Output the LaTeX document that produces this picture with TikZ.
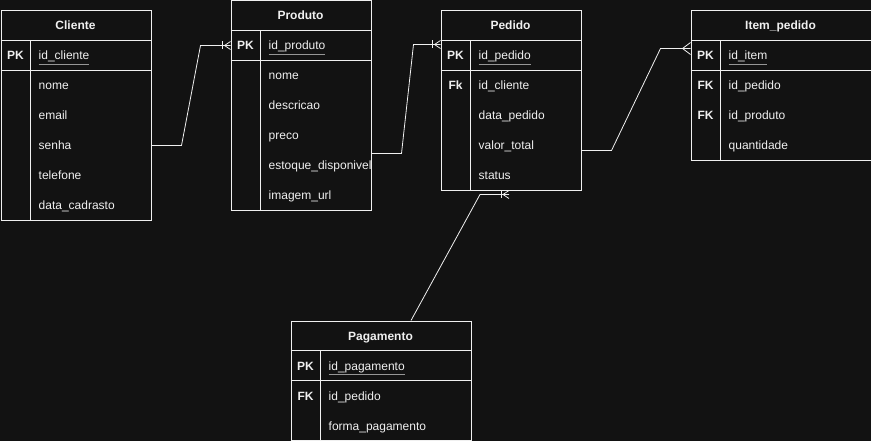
\documentclass[tikz,border=0pt]{standalone}
\usepackage{fontspec}
\setmainfont{Liberation Sans}
\usetikzlibrary{calc}
\definecolor{bg}{RGB}{18,18,18}
\definecolor{fg}{RGB}{240,240,240}
\definecolor{ulc}{RGB}{150,150,150}
\newcommand\pkul[1]{\textcolor{ulc}{\underline{\textcolor{fg}{#1}}}}
\begin{document}
\begin{tikzpicture}[x=1pt,y=-1pt,
  tbl/.style={draw=fg, line width=1pt, inner sep=0pt, anchor=north west},
  ln/.style={draw=fg, line width=1pt},
  hdr/.style={text=fg, font=\fontsize{12}{14}\selectfont\bfseries, inner sep=0pt, text height=10.5pt, text depth=1.5pt},
  keyt/.style={text=fg, font=\fontsize{12}{14}\selectfont\bfseries, inner sep=0pt, text height=10.5pt, text depth=1.5pt},
  fld/.style={text=fg, font=\fontsize{12}{14}\selectfont, inner sep=0pt, anchor=west, text height=10.5pt, text depth=1.5pt},
  conn/.style={draw=fg, line width=0.8pt},
  onemany/.pic={\draw[conn] (-8,-4) -- (-8,4); \draw[conn] (-6,0) -- (0,-4) (-6,0) -- (0,4);},
  manyonly/.pic={\draw[conn] (-8,0) -- (0,-6) (-8,0) -- (0,6);},
]
\fill[bg] (0,0) rectangle (871,441);
\useasboundingbox (0,0) rectangle (871,441);

% ---------- Cliente ----------
\node[tbl, minimum width=150pt, minimum height=210pt] (cli) at (0.5,10.5) {};
\draw[ln] (0.5,40.5) -- (150.5,40.5);
\draw[ln] (0.5,70.5) -- (150.5,70.5);
\draw[ln] (30.5,40.5) -- (30.5,220.5);
\node[hdr] (cli-h) at (75.5,25.5) {Cliente};
\node[keyt] (cli-pk) at (15.5,55.5) {PK};
\node[fld] (cli-id) at (38.5,55.5) {\pkul{id\_cliente}};
\node[fld] (cli-nome) at (38.5,85.5) {nome};
\node[fld] (cli-email) at (38.5,115.5) {email};
\node[fld] (cli-senha) at (38.5,145.5) {senha};
\node[fld] (cli-tel) at (38.5,175.5) {telefone};
\node[fld] (cli-data) at (38.5,205.5) {data\_cadrasto};

% ---------- Produto ----------
\node[tbl, minimum width=140pt, minimum height=210pt] (pro) at (230.5,0.5) {};
\draw[ln] (230.5,30.5) -- (370.5,30.5);
\draw[ln] (230.5,60.5) -- (370.5,60.5);
\draw[ln] (260.5,30.5) -- (260.5,210.5);
\node[hdr] (pro-h) at (300.5,15.5) {Produto};
\node[keyt] (pro-pk) at (245.5,45.5) {PK};
\node[fld] (pro-id) at (268.5,45.5) {\pkul{id\_produto}};
\node[fld] (pro-nome) at (268.5,75.5) {nome};
\node[fld] (pro-desc) at (268.5,105.5) {descricao};
\node[fld] (pro-preco) at (268.5,135.5) {preco};
\begin{scope}
\clip (261,151) rectangle (370,180);
\node[fld] (pro-est) at (268.5,165.5) {estoque\_disponivel};
\end{scope}
\node[fld] (pro-img) at (268.5,195.5) {imagem\_url};

% ---------- Pedido ----------
\node[tbl, minimum width=140pt, minimum height=180pt] (ped) at (440.5,10.5) {};
\draw[ln] (440.5,40.5) -- (580.5,40.5);
\draw[ln] (440.5,70.5) -- (580.5,70.5);
\draw[ln] (470.5,40.5) -- (470.5,190.5);
\node[hdr] (ped-h) at (510.5,25.5) {Pedido};
\node[keyt] (ped-pk) at (455.5,55.5) {PK};
\node[fld] (ped-id) at (478.5,55.5) {\pkul{id\_pedido}};
\node[keyt] (ped-fk) at (455.5,85.5) {Fk};
\node[fld] (ped-cli) at (478.5,85.5) {id\_cliente};
\node[fld] (ped-data) at (478.5,115.5) {data\_pedido};
\node[fld] (ped-val) at (478.5,145.5) {valor\_total};
\node[fld] (ped-st) at (478.5,175.5) {status};

% ---------- Item_pedido ----------
\node[tbl, minimum width=180pt, minimum height=150pt] (itm) at (690.5,10.5) {};
\draw[ln] (690.5,40.5) -- (870.5,40.5);
\draw[ln] (690.5,70.5) -- (870.5,70.5);
\draw[ln] (720.5,40.5) -- (720.5,160.5);
\node[hdr] (itm-h) at (780.5,25.5) {Item\_pedido};
\node[keyt] (itm-pk) at (705.5,55.5) {PK};
\node[fld] (itm-id) at (728.5,55.5) {\pkul{id\_item}};
\node[keyt] (itm-fk1) at (705.5,85.5) {FK};
\node[fld] (itm-ped) at (728.5,85.5) {id\_pedido};
\node[keyt] (itm-fk2) at (705.5,115.5) {FK};
\node[fld] (itm-pro) at (728.5,115.5) {id\_produto};
\node[fld] (itm-qt) at (728.5,145.5) {quantidade};

% ---------- Pagamento ----------
\node[tbl, minimum width=180pt, minimum height=119.3pt] (pag) at (290.5,320.5) {};
\draw[ln] (290.5,350.5) -- (470.5,350.5);
\draw[ln] (290.5,380.5) -- (470.5,380.5);
\draw[ln] (320.5,350.5) -- (320.5,439.8);
\node[hdr] (pag-h) at (380.5,335.5) {Pagamento};
\node[keyt] (pag-pk) at (305.5,365.5) {PK};
\node[fld] (pag-id) at (328.5,365.5) {\pkul{id\_pagamento}};
\node[keyt] (pag-fk) at (305.5,395.5) {FK};
\node[fld] (pag-ped) at (328.5,395.5) {id\_pedido};
\node[fld] (pag-forma) at (328.5,425.5) {forma\_pagamento};

% ---------- Connectors ----------
\coordinate (c1a) at (cli.east |- cli-senha);
\coordinate (c1b) at (pro.west |- pro-id);
\draw[conn] (c1a) -- ++(30,0) -- (200.5,45.5) -- (c1b);
\pic at (c1b) {onemany};

\coordinate (c2a) at ($(pro.east |- pro-est)+(0,-12)$);
\coordinate (c2b) at ($(ped.west |- ped-id)+(0,-11)$);
\draw[conn] (c2a) -- ++(30,0) -- (413.5,44.5) -- (c2b);
\pic at (c2b) {onemany};

\coordinate (c3a) at ($(ped.east |- ped-val)+(0,5)$);
\coordinate (c3b) at ($(itm.west |- itm-id)+(0,-7)$);
\draw[conn] (c3a) -- ++(30,0) -- (660.5,48.5) -- (c3b);
\pic at (c3b) {manyonly};

\coordinate (c4a) at ($(pag.north)+(30,0)$);
\coordinate (c4b) at ($(ped.south)+(-31,3)$);
\coordinate (c4c) at ($(ped.south)+(-2,3)$);
\draw[conn] (c4a) -- (c4b) -- (c4c);
\pic at (c4c) {onemany};
\end{tikzpicture}
\end{document}
